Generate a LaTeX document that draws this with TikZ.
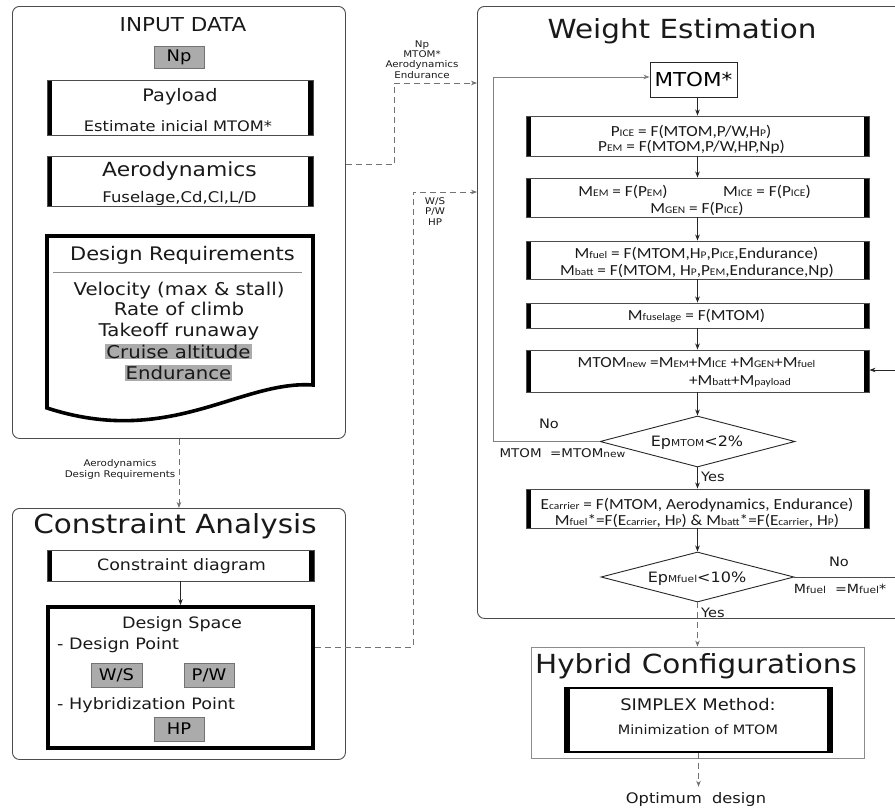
\documentclass[tikz,border=0pt]{standalone}
\usepackage{fontspec}
\setmainfont{DejaVu Sans}[FakeStretch=1.12]
\newfontfamily\calfont{Carlito}[FakeStretch=1.12]
\usetikzlibrary{arrows.meta,shapes.geometric}
\newcommand\fsz[1]{\fontsize{#1}{#1}\selectfont}
\newcommand\sbx[1]{{\fontsize{10.2}{10}\selectfont #1}}
\newcommand\sbd[1]{{\fontsize{9.5}{9.5}\selectfont #1}}
\tikzset{
  panel/.style={draw=black!70, line width=0.9pt, rounded corners=7pt, inner sep=0, anchor=north west},
  procbox/.style={draw=black!70, line width=0.9pt, inner sep=0,
    path picture={\fill[black] (path picture bounding box.north west) rectangle ([xshift=4.8pt]path picture bounding box.south west);
      \fill[black] (path picture bounding box.north east) rectangle ([xshift=-4.8pt]path picture bounding box.south east);}},
  graybox/.style={fill=gray!66, draw=black!55, line width=0.8pt, inner sep=0, font=\fsz{16}},
  txt/.style={anchor=base, inner sep=0, text=black!90},
  ttl/.style={txt, font=\fsz{26.3}},
  eq/.style={txt, font=\calfont\fsz{15.4}},
  hl/.style={txt, fill=gray!66, inner sep=1pt},
  flow/.style={draw=black!85, line width=0.8pt, -{Stealth[length=6pt,width=4.5pt,inset=1.8pt]}},
  loopline/.style={draw=black!50, line width=0.8pt, -{Stealth[length=6pt,width=4.5pt,inset=1.8pt]}},
  dashflow/.style={draw=black!55, line width=0.8pt, dash pattern=on 6pt off 4pt, -{Stealth[length=6pt,width=4.5pt,inset=1.8pt]}},
  dec/.style={diamond, draw=black!85, line width=0.9pt, inner sep=0, minimum width=195pt, minimum height=51pt},
  lbl/.style={align=center, inner sep=0, text=black!90, font=\fontsize{9.2}{10.2}\selectfont},
}
\begin{document}
\begin{tikzpicture}[x=1pt,y=-1pt]
\useasboundingbox (0,0) rectangle (895,809);

% ---------------- INPUT DATA ----------------
\node[panel, minimum width=333pt, minimum height=432pt] (inp) at (12,6) {};
\node[txt, font=\fsz{19.2}] (inpt) at (183,31.7) {INPUT DATA};
\node[graybox, minimum width=50pt, minimum height=22pt] (np) at (179,57) {Np};

\node[procbox, minimum width=266pt, minimum height=55pt] (pay) at (180,107.5) {};
\node[txt, font=\fsz{17.2}] (payt) at (180,101) {Payload};
\node[txt, font=\fsz{14.5}] (pays) at (178,131.5) {Estimate inicial MTOM*};

\node[procbox, minimum width=266pt, minimum height=50pt] (aero) at (180,181) {};
\node[txt, font=\fsz{19.5}] (aerot) at (179.5,176.7) {Aerodynamics};
\node[txt, font=\fsz{14.7}] (aeros) at (179.5,202) {Fuselage,Cd,Cl,L/D};

\draw[line width=3.6pt, line join=miter] (47,236) -- (313,236) -- (313,385)
  .. controls (240,380) and (170,448) .. (47,408) -- cycle;
\node[txt, font=\fsz{18.7}] (dreq) at (182.5,260.5) {Design Requirements};
\draw[draw=black!45, line width=0.8pt] (53,272) -- (302,272);
\node[txt, font=\fsz{17.6}] (r1) at (179,295) {Velocity (max \& stall)};
\node[txt, font=\fsz{17.6}] (r2) at (179,315.5) {Rate of climb};
\node[txt, font=\fsz{17.6}] (r3) at (179,336.7) {Takeoff runaway};
\node[hl, font=\fsz{17.6}] (r4) at (178.5,358) {Cruise altitude};
\node[hl, font=\fsz{17.6}] (r5) at (178.5,379.3) {Endurance};

% ---------------- CONSTRAINT ANALYSIS ----------------
\node[panel, minimum width=333pt, minimum height=251pt] (con) at (12,508) {};
\node[ttl] (cont) at (175,533.3) {Constraint Analysis};
\node[procbox, minimum width=267pt, minimum height=31pt] (cd) at (180.5,565.5) {};
\node[txt, font=\fsz{15.6}] (cdt) at (181.5,570.5) {Constraint diagram};
\node[draw=black, line width=3.8pt, inner sep=0, minimum width=265pt, minimum height=141pt] (ds) at (180.5,677.5) {};
\node[txt, font=\fsz{15.7}] (dst) at (182,628.3) {Design Space};
\node[txt, anchor=base west, font=\fsz{15.7}] (dp) at (57,649.3) {- Design Point};
\node[graybox, minimum width=51pt, minimum height=24pt] (ws) at (116.5,675) {W/S};
\node[graybox, minimum width=50pt, minimum height=24pt] (pw) at (209,675) {P/W};
\node[txt, anchor=base west, font=\fsz{15.7}] (hyp) at (57,709.3) {- Hybridization Point};
\node[graybox, minimum width=50pt, minimum height=24pt] (hp) at (179,729) {HP};

\draw[flow] (cd.south) -- (ds.north);

% ---------------- WEIGHT ESTIMATION ----------------
\node[panel, minimum width=440pt, minimum height=612pt] (wt) at (477,6) {};
\node[ttl] (wtt) at (682,38.3) {Weight Estimation};

\node[draw=black!85, line width=0.9pt, inner sep=0, minimum width=87pt, minimum height=35pt, font=\fsz{19.2}] (mtom) at (693.5,79.5) {MTOM*};

\node[procbox, minimum width=343pt, minimum height=40pt] (b1) at (697.5,136) {};
\node[eq] (b1a) at (691,136.5) {P\sbx{ICE} = F(MTOM,P/W,H\sbx{P})};
\node[eq] (b1b) at (691.5,151) {P\sbx{EM} = F(MTOM,P/W,HP,Np)};

\node[procbox, minimum width=343pt, minimum height=39pt] (b2) at (697.5,197.5) {};
\node[eq] (b2a) at (623,196.7) {M\sbx{EM} = F(P\sbx{EM})};
\node[eq] (b2b) at (767,196.7) {M\sbx{ICE} = F(P\sbx{ICE})};
\node[eq] (b2c) at (697,213) {M\sbx{GEN} = F(P\sbx{ICE})};

\node[procbox, minimum width=343pt, minimum height=38pt] (b3) at (697.5,260) {};
\node[eq] (b3a) at (696.5,258.3) {M\sbx{fuel} = F(MTOM,H\sbx{P},P\sbx{ICE},Endurance)};
\node[eq] (b3b) at (697,275) {M\sbx{batt} = F(MTOM, H\sbx{P},P\sbx{EM},Endurance,Np)};

\node[procbox, minimum width=343pt, minimum height=25pt] (b4) at (697.5,315.5) {};
\node[eq] (b4a) at (696.5,320) {M\sbx{fuselage} = F(MTOM)};

\node[procbox, minimum width=343pt, minimum height=42pt] (b5) at (697.5,371) {};
\node[eq] (b5a) at (696.5,367.3) {MTOM\sbx{new} =M\sbx{EM}+M\sbx{ICE} +M\sbx{GEN}+M\sbx{fuel}};
\node[eq] (b5b) at (740,385) {+M\sbx{batt}+M\sbx{payload}};

\node[dec] (d1) at (697.5,441.5) {};
\node[txt, font=\fsz{14.3}] (d1t) at (697,446.7) {Ep\sbd{MTOM}<2\%};
\node[txt, font=\fsz{13}] (no1) at (549,428.3) {No};
\node[txt, font=\fsz{12}] (mt1) at (562.5,457.7) {MTOM\ \ =MTOM\sbd{new}};
\node[txt, anchor=base west, font=\fsz{13}] (yes1) at (701,481.7) {Yes};

\node[procbox, minimum width=343pt, minimum height=39pt] (b6) at (697.5,508.5) {};
\node[eq] (b6a) at (697,509.3) {E\sbx{carrier} = F(MTOM, Aerodynamics, Endurance)};
\node[eq] (b6b) at (697,525) {M\sbx{fuel}*=F(E\sbx{carrier}, H\sbx{P}) \& M\sbx{batt}*=F(E\sbx{carrier}, H\sbx{P})};

\node[dec, minimum height=50pt, minimum width=193pt] (d2) at (697.5,577) {};
\node[txt, font=\fsz{14.3}] (d2t) at (697,582.7) {Ep\sbd{Mfuel}<10\%};
\node[txt, font=\fsz{13}] (no2) at (839,566.7) {No};
\node[txt, font=\fsz{12.6}] (mf) at (840,593.3) {M\sbd{fuel}\ \ =M\sbd{fuel}*};
\node[txt, anchor=base west, font=\fsz{13}] (yes2) at (701,617.3) {Yes};

\coordinate (loopc) at (493,441.5);
\coordinate (rightout) at (895,577);
\coordinate (rightin) at (895,370);

\draw[flow] (mtom.south -| b1.north) -- (b1.north);
\draw[flow] (b1) -- (b2);
\draw[flow] (b2) -- (b3);
\draw[flow] (b3) -- (b4);
\draw[flow] (b4) -- (b5);
\draw[flow] (b5.south) -- (d1.north);
\draw[flow] (d1.south) -- (b6.north);
\draw[flow] (b6.south) -- (d2.north);
\draw[loopline] (d1.west) -- (loopc) |- ([yshift=2.5pt]mtom.west);
\draw[draw=black!70, line width=0.8pt] (d2.east) -- (rightout);
\draw[flow] (rightin) -- (rightin -| b5.east);

% ---------------- HYBRID CONFIGURATIONS ----------------
\node[draw=black!45, line width=0.8pt, inner sep=0, minimum width=333pt, minimum height=111pt] (hyb) at (697.5,702.5) {};
\node[ttl] (hybt) at (696,673.3) {Hybrid Configurations};
\node[procbox, draw=black, line width=1.5pt, minimum width=267pt, minimum height=64pt] (sim) at (698.5,720) {};
\node[txt, font=\fsz{16}] (simt) at (698,710) {SIMPLEX Method:};
\node[txt, font=\fsz{12.9}] (sims) at (698,734) {Minimization of MTOM};
\node[txt, font=\fsz{14.5}] (opt) at (696,803) {Optimum\ \ design};

\draw[dashflow] (d2.south) -- (hyb.north);
\draw[dashflow] (sim.south) -- ([yshift=5pt]opt.north -| sim.south);

% ---------------- DASHED DATA FLOWS ----------------
\coordinate (k1) at (394,83);
\coordinate (k2) at (413,192);
\draw[dashflow] ([yshift=58pt]inp.east) -| (k1) -- (k1 -| wt.west);
\node[lbl] (l1) at (422,59.5) {Np\\MTOM*\\Aerodynamics\\Endurance};
\draw[dashflow] ([yshift=30.5pt]ds.east) -| (k2) -- (k2 -| wt.west);
\node[lbl] (l2) at (435,211.5) {W/S\\P/W\\HP};
\draw[dashflow] (inp.south) -- (con.north);
\node[lbl] (l3) at (120,469.5) {Aerodynamics\\Design Requirements};
\end{tikzpicture}
\end{document}
